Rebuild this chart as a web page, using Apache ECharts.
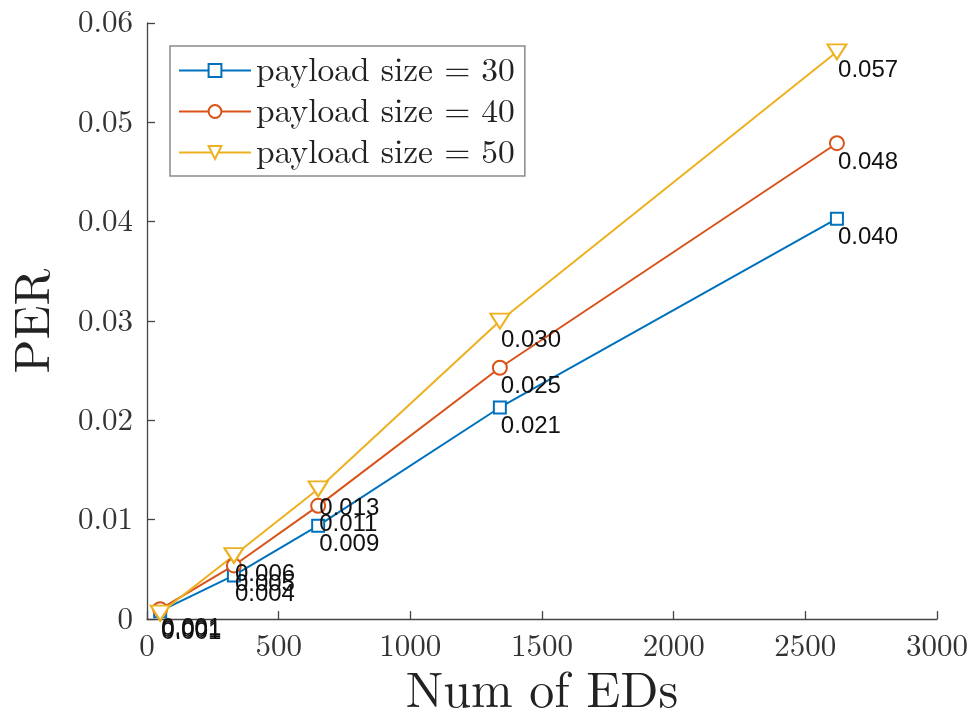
<!DOCTYPE html>
<html>
<head>
<meta charset="utf-8">
<script src="https://cdn.jsdelivr.net/npm/echarts@6/dist/echarts.min.js"></script>
<style>
html,body{margin:0;padding:0;background:#fff;}
#chart{width:977px;height:722px;}
</style>
</head>
<body>
<div id="chart"></div>
<script>
// ---- data ----
const numEDs = [50, 330, 650, 1340, 2620];
const per30 = [0.0008, 0.0044, 0.0094, 0.0213, 0.0403];
const per40 = [0.0010, 0.0054, 0.0114, 0.0253, 0.0479];
const per50 = [0.0006, 0.0064, 0.0131, 0.0300, 0.0571];
const seriesNames = ['payload size = 30', 'payload size = 40', 'payload size = 50'];
const xTicks = [0, 500, 1000, 1500, 2000, 2500, 3000];
const yTicks = [0, 0.01, 0.02, 0.03, 0.04, 0.05, 0.06];

const colors = ['#0072BD', '#D95319', '#EDB120'];
const serif = '"Latin Modern Roman", "Liberation Serif", "DejaVu Serif", serif';
const sans = '"Liberation Sans", Arial, Helvetica, sans-serif';

function pairs(ys) { return numEDs.map((x, i) => [x, ys[i]]); }

function makeSeries(name, ys, color, symbol, size, halfW) {
  return {
    name: name,
    type: 'line',
    data: pairs(ys),
    color: color,
    symbol: symbol,
    symbolSize: size,
    showAllSymbol: true,
    lineStyle: { color: color, width: 2 },
    itemStyle: { color: color, borderWidth: 1.8 },
    emphasis: { disabled: true },
    label: {
      show: true,
      position: 'right',
      distance: 0,
      offset: [-halfW, 19],
      formatter: p => p.value[1].toFixed(3),
      fontFamily: sans,
      fontSize: 24,
      color: '#111'
    },
    z: 3
  };
}

const chart = echarts.init(document.getElementById('chart'), null, { renderer: 'canvas' });
chart.setOption({
  animation: false,
  backgroundColor: '#fff',
  grid: { left: 147, right: 40, top: 23, bottom: 100, containLabel: false },
  legend: {
    orient: 'vertical',
    left: 170,
    top: 46,
    padding: [7, 10, 6, 8],
    itemWidth: 72,
    itemHeight: 16,
    itemGap: 6,
    borderColor: '#8a8a8a',
    borderWidth: 1.5,
    backgroundColor: '#fff',
    data: seriesNames,
    textStyle: { fontFamily: serif, fontSize: 33.5, color: '#222', lineHeight: 35, width: 256 }
  },
  xAxis: {
    type: 'value',
    min: xTicks[0],
    max: xTicks[xTicks.length - 1],
    interval: 500,
    name: 'Num of EDs',
    nameLocation: 'middle',
    nameGap: 42,
    nameTextStyle: { fontFamily: serif, fontSize: 50, color: '#222' },
    axisLine: { show: true, onZero: false, lineStyle: { color: '#444', width: 1.3 } },
    axisTick: { show: true, inside: true, length: 8, lineStyle: { color: '#444', width: 1.3 } },
    axisLabel: { fontFamily: serif, fontSize: 31, color: '#333', margin: 12, formatter: v => String(v) },
    splitLine: { show: false }
  },
  yAxis: {
    type: 'value',
    min: yTicks[0],
    max: yTicks[yTicks.length - 1],
    interval: 0.01,
    name: 'PER',
    nameLocation: 'middle',
    nameGap: 88,
    nameTextStyle: { fontFamily: serif, fontSize: 50, color: '#222' },
    axisLine: { show: true, onZero: false, lineStyle: { color: '#444', width: 1.3 } },
    axisTick: { show: true, inside: true, length: 8, lineStyle: { color: '#444', width: 1.3 } },
    axisLabel: {
      fontFamily: serif, fontSize: 31, color: '#333', margin: 14,
      formatter: v => (v === 0 ? '0' : v.toFixed(2))
    },
    splitLine: { show: false }
  },
  series: [
    makeSeries(seriesNames[0], per30, colors[0], 'emptyRect', 12, 6),
    makeSeries(seriesNames[1], per40, colors[1], 'emptyCircle', 14, 7),
    makeSeries(seriesNames[2], per50, colors[2], 'emptypath://M0,0 L20,0 L10,16 Z', [19, 15], 9.5)
  ]
});
</script>
</body>
</html>
